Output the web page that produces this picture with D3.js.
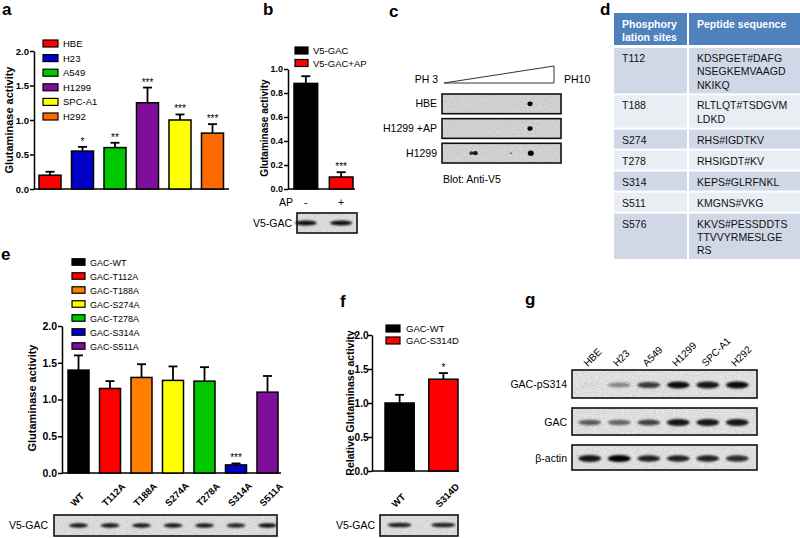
<!DOCTYPE html>
<html><head><meta charset="utf-8">
<script src="https://cdn.jsdelivr.net/npm/d3@7"></script>
<style>body{margin:0;background:#fff}svg{display:block}</style>
</head><body>
<svg id="chart" width="800" height="538"></svg>
<script>
// ---------- DATA ----------
const aCategories = ["HBE","H23","A549","H1299","SPC-A1","H292"];
const aValues = [0.20,0.55,0.60,1.25,1.00,0.81];
const aErrors = [0.05,0.06,0.07,0.22,0.08,0.13];
const aStars = ["","*","**","***","***","***"];
const aColors = ["#ff0000","#0000c8","#00c800","#7f0f9a","#ffff00","#ff6a00"];
const aTicks = [0,0.5,1.0,1.5,2.0];

const bCategories = ["V5-GAC","V5-GAC+AP"];
const bValues = [0.88,0.10];
const bErrors = [0.06,0.04];
const bStars = ["","***"];
const bColors = ["#000000","#ff0000"];
const bAP = ["-","+"];
const bTicks = [0,0.2,0.4,0.6,0.8,1.0];
const bBlot = [0.95,0.95];

const cRows = ["HBE","H1299 +AP","H1299"];
const cSpots = [
  [[8.3,1.0]],
  [[8.3,1.0]],
  [[4.6,0.6],[4.85,0.85],[7.1,0.15],[8.35,1.3]]
];

const dHeader = [["Phosphory","lation sites"],["Peptide sequence"]];
const dSites = ["T112","T188","S274","T278","S314","S511","S576"];
const dPeptides = [
  ["KDSPGET#DAFG","NSEGKEMVAAGD","NKIKQ"],
  ["RLTLQT#TSDGVM","LDKD"],
  ["RHS#IGDTKV"],
  ["RHSIGDT#KV"],
  ["KEPS#GLRFNKL"],
  ["KMGNS#VKG"],
  ["KKVS#PESSDDTS","TTVVYRMESLGE","RS"]
];

const eCategories = ["WT","T112A","T188A","S274A","T278A","S314A","S511A"];
const eLegend = ["GAC-WT","GAC-T112A","GAC-T188A","GAC-S274A","GAC-T278A","GAC-S314A","GAC-S511A"];
const eValues = [1.40,1.15,1.30,1.26,1.25,0.11,1.10];
const eErrors = [0.20,0.10,0.18,0.19,0.19,0.02,0.22];
const eStars = ["","","","","","***",""];
const eColors = ["#000000","#ff0000","#ff8000","#ffff00","#00c800","#0000c8","#7f0f9a"];
const eTicks = [0,0.5,1.0,1.5,2.0];
const eBlot = [0.9,0.9,0.9,0.9,0.9,0.85,0.95];

const fCategories = ["WT","S314D"];
const fLegend = ["GAC-WT","GAC-S314D"];
const fValues = [1.00,1.35];
const fErrors = [0.12,0.09];
const fStars = ["","*"];
const fColors = ["#000000","#ff0000"];
const fTicks = [0,0.5,1.0,1.5,2.0];
const fBlot = [0.85,0.85];

const gLanes = ["HBE","H23","A549","H1299","SPC-A1","H292"];
const gRows = ["GAC-pS314","GAC","β-actin"];
const gBands = [
  [0.03,0.4,0.75,0.95,0.9,0.95],
  [0.6,0.55,0.7,0.9,0.9,0.9],
  [0.9,1.0,0.85,0.85,0.85,0.8]
];

// ---------- DRAW ----------
const FONT = "'Liberation Sans', Arial, Helvetica, sans-serif";
const svg = d3.select("#chart").attr("font-family", FONT);

const defs = svg.append("defs");
const grain = defs.append("filter").attr("id","grain").attr("x",0).attr("y",0).attr("width",1).attr("height",1);
grain.append("feTurbulence").attr("type","fractalNoise").attr("baseFrequency",1.1).attr("numOctaves",2).attr("seed",4).attr("result","n");
grain.append("feColorMatrix").attr("in","n").attr("type","matrix")
  .attr("values","0 0 0 0 0.4  0 0 0 0 0.4  0 0 0 0 0.4  0 0 0 0.9 -0.25").attr("result","m");
grain.append("feComposite").attr("in","m").attr("in2","SourceGraphic").attr("operator","in");
const blur = defs.append("filter").attr("id","blur").attr("x","-50%").attr("y","-100%").attr("width","200%").attr("height","300%");
blur.append("feGaussianBlur").attr("stdDeviation",1.1);
const blur2 = defs.append("filter").attr("id","blur2").attr("x","-50%").attr("y","-100%").attr("width","200%").attr("height","300%");
blur2.append("feGaussianBlur").attr("stdDeviation",0.7);

function panelLabel(t, x, y) {
  svg.append("text").attr("x",x).attr("y",y).attr("font-size",17).attr("font-weight","bold").attr("fill","#000").text(t);
}

function blotBox(x0, y0, w, h, base) {
  svg.append("rect").attr("x",x0).attr("y",y0).attr("width",w).attr("height",h).attr("fill",base || "#e6e6e6");
  svg.append("rect").attr("x",x0).attr("y",y0).attr("width",w).attr("height",h).attr("fill","#fff").attr("filter","url(#grain)");
}
function blotBorder(x0, y0, w, h) {
  svg.append("rect").attr("x",x0).attr("y",y0).attr("width",w).attr("height",h)
    .attr("fill","none").attr("stroke","#111").attr("stroke-width",1.6);
}

function barPanel(cfg) {
  const g = svg.append("g");
  const x = d3.scaleBand().domain(cfg.cats).range(cfg.xr).paddingInner(cfg.pad).paddingOuter(0);
  const y = d3.scaleLinear().domain([0, cfg.ymax]).range(cfg.yr);
  const ax = g.append("g").attr("transform",`translate(${cfg.axisX},0)`)
    .call(d3.axisLeft(y).tickValues(cfg.ticks).tickFormat(d3.format(".1f")).tickSize(4).tickSizeOuter(0));
  ax.attr("font-family",FONT);
  ax.select(".domain").attr("stroke-width",1.5).attr("stroke","#000");
  ax.selectAll(".tick line").attr("stroke-width",1.5).attr("stroke","#000");
  ax.selectAll(".tick text").attr("font-weight","bold").attr("font-size",cfg.tickFont).attr("fill","#000").attr("x",cfg.tickDx || -5);
  g.append("line").attr("x1",cfg.axisX).attr("x2",cfg.baseEnd).attr("y1",y(0)).attr("y2",y(0))
    .attr("stroke","#000").attr("stroke-width",1.5);
  const bw = x.bandwidth();
  cfg.cats.forEach((c,i) => {
    const v = cfg.vals[i], e = cfg.errs[i], cx = x(c) + bw/2;
    g.append("line").attr("x1",cx).attr("x2",cx).attr("y1",y(v)).attr("y2",y(v+e)).attr("stroke","#000").attr("stroke-width",1.8);
    g.append("line").attr("x1",cx-cfg.cap/2).attr("x2",cx+cfg.cap/2).attr("y1",y(v+e)).attr("y2",y(v+e)).attr("stroke","#000").attr("stroke-width",1.8);
    g.append("rect").attr("x",x(c)).attr("y",y(v)).attr("width",bw).attr("height",y(0)-y(v))
      .attr("fill",cfg.colors[i]).attr("stroke","#000").attr("stroke-width",1.5);
    if (cfg.stars[i]) {
      g.append("text").attr("x",cx).attr("y",y(v+e)-2).attr("text-anchor","middle").attr("font-size",10).attr("fill","#000").text(cfg.stars[i]);
    }
  });
  // legend
  cfg.legend.forEach((t,i) => {
    const yy = cfg.legY + i*cfg.legStep;
    g.append("rect").attr("x",cfg.legX).attr("y",yy-cfg.swH/2).attr("width",cfg.swW).attr("height",cfg.swH)
      .attr("fill",cfg.colors[i]).attr("stroke","#000").attr("stroke-width",1.2);
    g.append("text").attr("x",cfg.legTextX).attr("y",yy+3.5).attr("font-size",cfg.legFont).attr("fill","#000").text(t);
  });
  // y label
  g.append("text").attr("transform",`translate(${cfg.ylabX},${cfg.ylabY}) rotate(-90)`)
    .attr("text-anchor","middle").attr("font-weight","bold").attr("font-size",cfg.ylabFont).attr("fill","#000").text(cfg.ylab);
  return {x, y, bw};
}

// ---- a ----
panelLabel("a", 2, 15);
barPanel({cats:aCategories, vals:aValues, errs:aErrors, stars:aStars, colors:aColors, ticks:aTicks,
  xr:[39,223.5], pad:0.323, axisX:34, baseEnd:229, ymax:2, yr:[189,51], tickFont:9.5, cap:9,
  legend:aCategories, legX:43, legY:43.5, legStep:14.6, swW:15, swH:7, legTextX:63, legFont:9.5,
  ylab:"Glutaminase activity", ylabX:13, ylabY:120, ylabFont:11});

// ---- b ----
panelLabel("b", 263, 15);
const bp = barPanel({cats:bCategories, vals:bValues, errs:bErrors, stars:bStars, colors:bColors, ticks:bTicks,
  xr:[294,353], pad:0.33, axisX:288, baseEnd:355, ymax:1, yr:[189,69], tickFont:9, cap:9,
  legend:bCategories, legX:295, legY:50.5, legStep:12.5, swW:13, swH:7, legTextX:313, legFont:9.5,
  ylab:"Glutaminase activity", ylabX:268, ylabY:128, ylabFont:10});
svg.append("text").attr("x",293).attr("y",206).attr("text-anchor","end").attr("font-size",10.5).text("AP");
bCategories.forEach((c,i) => {
  svg.append("text").attr("x",bp.x(c)+bp.bw/2).attr("y",206).attr("text-anchor","middle").attr("font-size",10.5).text(bAP[i]);
});
blotBox(297,213,60,20);
bCategories.forEach((c,i) => {
  svg.append("ellipse").attr("cx",bp.x(c)+bp.bw/2).attr("cy",223).attr("rx",11).attr("ry",2.6)
    .attr("fill","#000").attr("opacity",bBlot[i]).attr("filter","url(#blur)");
});
blotBorder(297,213,60,20);
svg.append("text").attr("x",292).attr("y",226.5).attr("text-anchor","end").attr("font-size",10.5).text("V5-GAC");

// ---- c ----
panelLabel("c", 389, 17);
const ph = d3.scaleLinear().domain([3,10]).range([446,557]);
svg.append("path").attr("d",`M${ph(3)-2},83 L${ph(10)-3},66 L${ph(10)-3},83 Z`).attr("fill","#fff").attr("stroke","#333").attr("stroke-width",1);
svg.append("text").attr("x",438).attr("y",83).attr("text-anchor","end").attr("font-size",10.5).text("PH 3");
svg.append("text").attr("x",564).attr("y",83).attr("font-size",10.5).text("PH10");
const cRowY = d3.scaleBand().domain(cRows).range([94,163]).paddingInner(0.2).paddingOuter(0);
cRows.forEach((r,i) => {
  const y0 = cRowY(r), h = cRowY.bandwidth();
  blotBox(442,y0,119,h,"#d9d9d9");
  cSpots[i].forEach(s => {
    svg.append("ellipse").attr("cx",ph(s[0])).attr("cy",y0+h/2).attr("rx",2.6*Math.sqrt(s[1])).attr("ry",2.3*Math.sqrt(s[1]))
      .attr("fill","#000").attr("opacity",Math.min(1,0.4+s[1]*0.6)).attr("filter","url(#blur2)");
  });
  blotBorder(442,y0,119,h);
  svg.append("text").attr("x",437).attr("y",y0+h/2+3.5).attr("text-anchor","end").attr("font-size",10.5).text(r);
});
svg.append("text").attr("x",443).attr("y",183).attr("font-size",10.5).text("Blot: Anti-V5");

// ---- d ----
panelLabel("d", 600, 15);
const col1X = 614, col2X = 689, tableR = 800;
svg.append("rect").attr("x",col1X).attr("y",13).attr("width",col2X-2-col1X).attr("height",32).attr("fill","#4f81bd");
svg.append("rect").attr("x",col2X).attr("y",13).attr("width",tableR-col2X).attr("height",32).attr("fill","#4f81bd");
dHeader[0].forEach((t,k) => svg.append("text").attr("x",622).attr("y",28+k*13.3).attr("fill","#fff").attr("font-weight","bold").attr("font-size",10.5).text(t));
dHeader[1].forEach((t,k) => svg.append("text").attr("x",697).attr("y",28+k*13.3).attr("fill","#fff").attr("font-weight","bold").attr("font-size",10.5).text(t));
let rowTop = 48;
dSites.forEach((s,i) => {
  const n = dPeptides[i].length;
  const h = 5.8 + 13.2*n;
  const fill = i%2===0 ? "#d0d8e8" : "#e9edf4";
  svg.append("rect").attr("x",col1X).attr("y",rowTop).attr("width",col2X-2-col1X).attr("height",h).attr("fill",fill);
  svg.append("rect").attr("x",col2X).attr("y",rowTop).attr("width",tableR-col2X).attr("height",h).attr("fill",fill);
  svg.append("text").attr("x",622).attr("y",rowTop+14).attr("font-size",10.5).attr("fill","#111").text(s);
  dPeptides[i].forEach((t,k) => svg.append("text").attr("x",697).attr("y",rowTop+14+k*13.3).attr("font-size",10.5).attr("fill","#111").text(t));
  rowTop += h + 2;
});

// ---- e ----
panelLabel("e", 1, 260);
const ep = barPanel({cats:eCategories, vals:eValues, errs:eErrors, stars:eStars, colors:eColors, ticks:eTicks,
  xr:[68,278], pad:0.333, axisX:62, baseEnd:281, ymax:2, yr:[473,326], tickFont:10.5, cap:9,
  legend:eLegend, legX:72, legY:262, legStep:14, swW:13, swH:6.5, legTextX:90, legFont:9,
  ylab:"Glutaminase activity", ylabX:36, ylabY:398, ylabFont:11});
eCategories.forEach(c => {
  const cx = ep.x(c)+ep.bw/2;
  svg.append("text").attr("transform",`translate(${cx-4},507) rotate(-45)`).attr("font-size",9.5).attr("font-weight","bold").text(c);
});
blotBox(54,515,223,21);
eCategories.forEach((c,i) => {
  svg.append("ellipse").attr("cx",ep.x(c)+ep.bw/2).attr("cy",525.5).attr("rx",9.5).attr("ry",2.2)
    .attr("fill","#000").attr("opacity",eBlot[i]).attr("filter","url(#blur)");
});
blotBorder(54,515,223,21);
svg.append("text").attr("x",48).attr("y",529).attr("text-anchor","end").attr("font-size",10.5).text("V5-GAC");

// ---- f ----
panelLabel("f", 340, 307);
const fp = barPanel({cats:fCategories, vals:fValues, errs:fErrors, stars:fStars, colors:fColors, ticks:fTicks,
  xr:[385,458], pad:0.333, axisX:372, baseEnd:459, ymax:2, yr:[471,335], tickFont:10, tickDx:-3.5, cap:9,
  legend:fLegend, legX:386, legY:328.5, legStep:12, swW:14, swH:7, legTextX:406, legFont:9.5,
  ylab:"Relative Glutaminase activity", ylabX:354, ylabY:403, ylabFont:10.5});
fCategories.forEach(c => {
  const cx = fp.x(c)+fp.bw/2;
  svg.append("text").attr("transform",`translate(${cx-4},508) rotate(-45)`).attr("font-size",9.5).attr("font-weight","bold").text(c);
});
blotBox(380,515,78,21);
fCategories.forEach((c,i) => {
  svg.append("ellipse").attr("cx",fp.x(c)+fp.bw/2).attr("cy",525).attr("rx",12).attr("ry",2.3)
    .attr("fill","#000").attr("opacity",fBlot[i]).attr("filter","url(#blur)");
});
blotBorder(380,515,78,21);
svg.append("text").attr("x",375).attr("y",529).attr("text-anchor","end").attr("font-size",10.5).text("V5-GAC");

// ---- g ----
panelLabel("g", 525, 305);
const gx = d3.scaleBand().domain(gLanes).range([575,752]).padding(0);
const gRowTops = [370,408,445];
const gRowH = [28,27,25];
gLanes.forEach(l => {
  svg.append("text").attr("transform",`translate(${gx(l)+gx.bandwidth()/2-2},367) rotate(-45)`).attr("font-size",10).text(l);
});
gRows.forEach((r,i) => {
  const y0 = gRowTops[i], h = gRowH[i];
  blotBox(572,y0,185,h,"#ebebeb");
  gLanes.forEach((l,j) => {
    const v = gBands[i][j];
    svg.append("ellipse").attr("cx",gx(l)+gx.bandwidth()/2).attr("cy",y0+h/2+1).attr("rx",11.5).attr("ry",1.6+2*v)
      .attr("fill","#000").attr("opacity",v).attr("filter","url(#blur)");
  });
  blotBorder(572,y0,185,h);
  svg.append("text").attr("x",567).attr("y",y0+h/2+4).attr("text-anchor","end").attr("font-size",10.5).text(r);
});
</script>
</body></html>
